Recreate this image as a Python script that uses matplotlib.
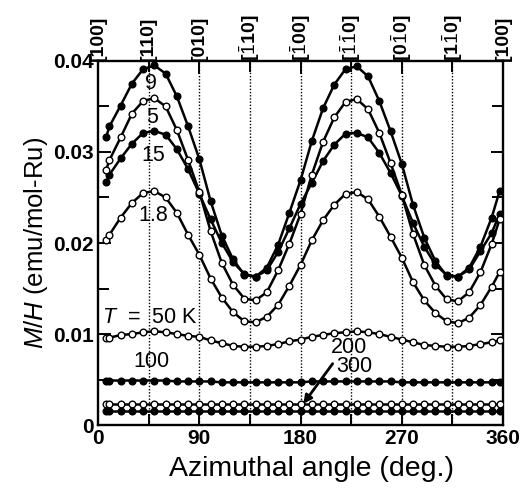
import matplotlib
matplotlib.use("Agg")
import matplotlib.pyplot as plt

plt.rcParams['font.family'] = ['Liberation Sans', 'DejaVu Sans']
plt.rcParams['mathtext.fontset'] = 'custom'
plt.rcParams['mathtext.rm'] = 'Liberation Sans'
plt.rcParams['mathtext.it'] = 'Liberation Sans:italic'
plt.rcParams['mathtext.bf'] = 'Liberation Sans:bold'

# angles de mesure (deg.)
angles = [7, 10, 20, 30, 40, 50, 60, 70, 80, 90, 100, 110, 120, 130, 140, 150, 160, 170, 180,
          190, 200, 210, 220, 230, 240, 250, 260, 270, 280, 290, 300, 310, 320, 330, 340, 350, 357]

mh_1p8 = [0.0203, 0.0209, 0.0228, 0.0244, 0.0255, 0.0257, 0.0250, 0.0233, 0.0209, 0.0187,
          0.0161, 0.0140, 0.0124, 0.0114, 0.0113, 0.0119, 0.0132, 0.0153, 0.0176,
          0.0203, 0.0225, 0.0242, 0.0254, 0.0256, 0.0248, 0.0229, 0.0207, 0.0184,
          0.0157, 0.0137, 0.0123, 0.0114, 0.0112, 0.0118, 0.0132, 0.0152, 0.0168]
mh_5 = [0.0280, 0.0291, 0.0316, 0.0342, 0.0356, 0.0359, 0.0350, 0.0324, 0.0291, 0.0256,
        0.0213, 0.0178, 0.0154, 0.0139, 0.0137, 0.0146, 0.0170, 0.0199, 0.0232,
        0.0275, 0.0311, 0.0338, 0.0355, 0.0358, 0.0347, 0.0321, 0.0288, 0.0253,
        0.0210, 0.0176, 0.0153, 0.0138, 0.0136, 0.0146, 0.0168, 0.0199, 0.0226]
mh_9 = [0.0316, 0.0328, 0.0351, 0.0375, 0.0391, 0.0395, 0.0386, 0.0361, 0.0328, 0.0292,
        0.0246, 0.0208, 0.0182, 0.0165, 0.0163, 0.0173, 0.0198, 0.0233, 0.0269,
        0.0312, 0.0348, 0.0374, 0.0391, 0.0394, 0.0383, 0.0356, 0.0323, 0.0287,
        0.0242, 0.0206, 0.0180, 0.0164, 0.0163, 0.0173, 0.0196, 0.0228, 0.0257]
mh_15 = [0.0267, 0.0275, 0.0293, 0.0309, 0.0321, 0.0323, 0.0319, 0.0303, 0.0281, 0.0254,
         0.0226, 0.0200, 0.0179, 0.0166, 0.0163, 0.0170, 0.0190, 0.0216, 0.0243,
         0.0266, 0.0290, 0.0308, 0.0320, 0.0321, 0.0316, 0.0299, 0.0277, 0.0252,
         0.0222, 0.0196, 0.0176, 0.0165, 0.0163, 0.0171, 0.0191, 0.0211, 0.0232]
mh_50 = [0.0096, 0.0096, 0.0099, 0.0100, 0.0102, 0.0103, 0.0102, 0.0100, 0.0098, 0.0097,
         0.0093, 0.0090, 0.0087, 0.0086, 0.0086, 0.0087, 0.0089, 0.0092, 0.0094,
         0.0097, 0.0099, 0.0101, 0.0102, 0.0103, 0.0102, 0.0100, 0.0097, 0.0094,
         0.0091, 0.0088, 0.0087, 0.0086, 0.0086, 0.0087, 0.0089, 0.0091, 0.0093]
mh_100 = [0.0049, 0.0049, 0.0049, 0.0049, 0.0049, 0.0049, 0.0049, 0.0048, 0.0048, 0.0048,
          0.0048, 0.0047, 0.0047, 0.0047, 0.0047, 0.0047, 0.0047, 0.0047, 0.0047,
          0.0048, 0.0048, 0.0048, 0.0048, 0.0048, 0.0048, 0.0048, 0.0048, 0.0047,
          0.0047, 0.0047, 0.0047, 0.0047, 0.0047, 0.0047, 0.0047, 0.0047, 0.0047]
mh_200 = [0.0023, 0.0023, 0.0023, 0.0023, 0.0023, 0.0023, 0.0023, 0.0023, 0.0023, 0.0023,
          0.0023, 0.0023, 0.0023, 0.0023, 0.0023, 0.0023, 0.0023, 0.0023, 0.0023,
          0.0023, 0.0023, 0.0023, 0.0023, 0.0023, 0.0023, 0.0023, 0.0023, 0.0023,
          0.0023, 0.0023, 0.0023, 0.0023, 0.0023, 0.0023, 0.0023, 0.0023, 0.0023]
mh_300 = [0.0015, 0.0015, 0.0015, 0.0015, 0.0015, 0.0015, 0.0015, 0.0015, 0.0015, 0.0015,
          0.0015, 0.0015, 0.0015, 0.0015, 0.0015, 0.0015, 0.0015, 0.0015, 0.0015,
          0.0015, 0.0015, 0.0015, 0.0015, 0.0015, 0.0015, 0.0015, 0.0015, 0.0015,
          0.0015, 0.0015, 0.0015, 0.0015, 0.0015, 0.0015, 0.0015, 0.0015, 0.0015]

directions = ['[100]', '[110]', '[010]', r'[$\bar{1}$10]', r'[$\bar{1}$00]',
              r'[$\bar{1}\bar{1}$0]', r'[0$\bar{1}$0]', r'[1$\bar{1}$0]', '[100]']
dir_angles = [0, 45, 90, 135, 180, 225, 270, 315, 360]

# (données, marqueur plein ?)
courbes = [(mh_300, True), (mh_200, False), (mh_100, True), (mh_50, False),
           (mh_1p8, False), (mh_15, True), (mh_5, False), (mh_9, True)]

fig = plt.figure(figsize=(5.25, 4.99), dpi=100)
ax = fig.add_axes([0.187, 0.148, 0.771, 0.730])

for a in dir_angles[1:-1]:
    ax.axvline(a, color='black', linestyle=(0, (1, 1.3)), linewidth=1.0, zorder=1)

for y, plein in courbes:
    ax.plot(angles, y, color='black', linewidth=1.8, marker='o', markersize=4.8,
            markerfacecolor='black' if plein else 'white', markeredgecolor='black',
            markeredgewidth=1.0, zorder=3)

ax.set_xlim(0, 360)
ax.set_ylim(0, 0.04)
ax.set_xticks([0, 90, 180, 270, 360])
ax.set_yticks([0, 0.01, 0.02, 0.03, 0.04])
ax.set_yticklabels(['0', '0.01', '0.02', '0.03', '0.04'])
ax.set_xticks([45, 135, 225, 315], minor=True)
ax.set_yticks([0.005, 0.015, 0.025, 0.035], minor=True)
ax.tick_params(which='both', direction='in', top=True, right=True, width=1.4,
               labelsize=15, pad=3)
ax.tick_params(which='major', length=9)
ax.tick_params(which='minor', length=8)
for lab in ax.get_xticklabels() + ax.get_yticklabels():
    lab.set_fontweight('bold')
for s in ax.spines.values():
    s.set_linewidth(1.7)

ax.set_xlabel('Azimuthal angle (deg.)', fontsize=20.5, labelpad=4)
ax.xaxis.set_label_coords(0.528, -0.085)
ax.set_ylabel(r'$\it{M/H}$ (emu/mol-Ru)', fontsize=18.5, labelpad=2)

for a, lab in zip(dir_angles, directions):
    ax.text(a, 1.0, lab, transform=ax.get_xaxis_transform(), rotation=90,
            ha='center', va='bottom', fontsize=14, fontweight='bold')

kw = dict(fontsize=15.5, ha='center', va='center')
ax.text(47, 0.0375, '9', **kw)
ax.text(48, 0.0338, '5', **kw)
ax.text(49, 0.0296, '15', **kw)
ax.text(49, 0.0230, '1.8', **kw)
ax.text(46, 0.0118, r'$\it{T}$  =  50 K', **kw)
ax.text(47, 0.0070, '100', **kw)
ax.text(223, 0.0085, '200', **kw)
ax.text(228, 0.0064, '300', **kw)
ax.annotate('', xy=(181, 0.0021), xytext=(210, 0.0070),
            arrowprops=dict(arrowstyle='-|>', color='black', lw=2, mutation_scale=12))

fig.savefig('out.png', dpi=100)
